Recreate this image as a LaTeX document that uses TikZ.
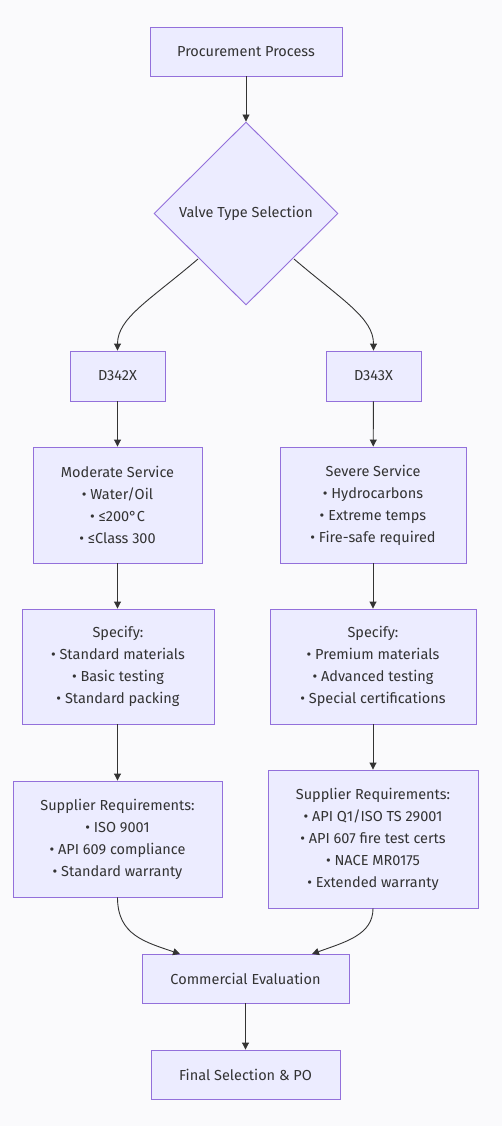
\documentclass[tikz,border=0pt]{standalone}
\usepackage{fontspec}
\setmainfont{Fira Sans}
\usetikzlibrary{shapes.geometric,arrows.meta}
\definecolor{bg}{RGB}{250,250,252}
\definecolor{nodefill}{RGB}{236,236,255}
\definecolor{nodeline}{RGB}{147,112,219}
\definecolor{txt}{RGB}{51,51,51}
\definecolor{edge}{RGB}{51,51,51}
\tikzset{
  box/.style={draw=nodeline, fill=nodefill, line width=0.9pt, inner sep=0pt, text=txt, align=center,
    font=\fontsize{14.5}{22}\selectfont, anchor=center},
  dia/.style={draw=nodeline, fill=nodefill, line width=0.9pt, diamond, inner sep=0pt, text=txt,
    font=\fontsize{14.5}{22}\selectfont, minimum width=184pt, minimum height=183pt, aspect=1},
  conn/.style={draw=edge, line width=0.9pt, -{Triangle[length=7pt,width=7pt]}}
}
\begin{document}
\begin{tikzpicture}[x=1pt,y=-1pt]
\useasboundingbox[fill=bg] (0,0) rectangle (502,1126);
\node[box, minimum width=192pt, minimum height=49pt] (proc) at (246,51.5) {Procurement Process};
\node[dia] (sel) at (246,213.5) {Valve Type Selection};
\node[box, minimum width=95pt, minimum height=50pt] (d342) at (117.5,376) {D342X};
\node[box, minimum width=95pt, minimum height=50pt] (d343) at (373.5,376) {D343X};
\node[box, minimum width=169pt, minimum height=116pt] (mod) at (117.5,505) {Moderate Service\\• Water/Oil\\• ≤200°C\\• ≤Class 300};
\node[box, minimum width=186pt, minimum height=116pt] (sev) at (373,505) {Severe Service\\• Hydrocarbons\\• Extreme temps\\• Fire-safe required};
\node[box, minimum width=192pt, minimum height=115pt] (specl) at (118,666.5) {Specify:\\• Standard materials\\• Basic testing\\• Standard packing};
\node[box, minimum width=206pt, minimum height=115pt] (specr) at (373,666.5) {Specify:\\• Premium materials\\• Advanced testing\\• Special certifications};
\node[box, minimum width=209pt, minimum height=116pt] (supl) at (117.5,839) {Supplier Requirements:\\• ISO 9001\\• API 609 compliance\\• Standard warranty};
\node[box, minimum width=210pt, minimum height=138pt] (supr) at (373,839) {Supplier Requirements:\\• API Q1/ISO TS 29001\\• API 607 fire test certs\\• NACE MR0175\\• Extended warranty};
\node[box, minimum width=207pt, minimum height=49pt] (comm) at (245.5,978.5) {Commercial Evaluation};
\node[box, minimum width=189pt, minimum height=49pt] (fin) at (245.5,1074.5) {Final Selection \& PO};
\draw[conn] (proc) -- (sel);
\coordinate (sl) at (198,259);
\coordinate (sr) at (294,259);
\draw[conn] (sl) .. controls (150,300) and (117.5,318) .. (d342.north);
\draw[conn] (sr) .. controls (342,300) and (373.5,318) .. (d343.north);
\draw[conn] (d342) -- (mod);
\draw[conn] (d343) -- (sev);
\draw[conn] (mod) -- (specl.north -| mod.south);
\draw[conn] (sev) -- (specr.north -| sev.south);
\draw[conn] (specl.south -| supl.north) -- (supl);
\draw[conn] (specr) -- (supr);
\coordinate (cl) at (180,954);
\coordinate (cr) at (312,954);
\draw[conn] (supl.south) .. controls (117.5,935) and (145,942) .. (cl);
\draw[conn] (supr.south) .. controls (373,935) and (345,942) .. (cr);
\draw[conn] (comm) -- (fin);
\end{tikzpicture}
\end{document}
